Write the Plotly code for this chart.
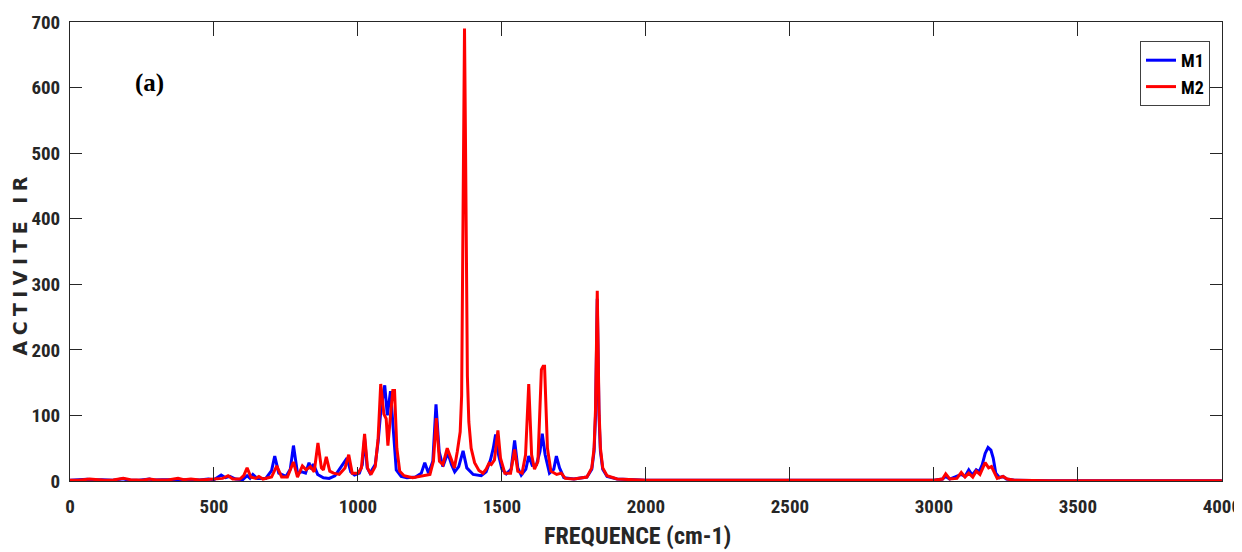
import plotly.graph_objects as go

# ---- data ----
m1_x = [0, 30, 60, 80, 110, 150, 185, 200, 240, 275, 290, 320, 370, 385, 420, 450, 480, 500,
        515, 525, 540, 555, 575, 600, 615, 625, 635, 650, 680, 700, 711, 725, 750, 765, 776,
        790, 805, 818, 830, 838, 845, 860, 880, 900, 920, 945, 962, 975, 988, 1005, 1015,
        1023, 1032, 1042, 1060, 1070, 1080, 1093, 1102, 1113, 1123, 1133, 1150, 1170, 1200,
        1220, 1232, 1245, 1260, 1271, 1282, 1295, 1312, 1325, 1336, 1350, 1365, 1378, 1400,
        1428, 1445, 1460, 1470, 1478, 1488, 1500, 1515, 1532, 1544, 1555, 1567, 1583, 1593,
        1605, 1620, 1632, 1640, 1650, 1665, 1680, 1689, 1700, 1715, 1750, 1795, 1812, 1820,
        1825, 1828, 1831, 1834, 1837, 1842, 1850, 1865, 1900, 2000, 2500, 3000, 3030, 3041,
        3055, 3085, 3095, 3108, 3121, 3133, 3147, 3157, 3168, 3178, 3188, 3198, 3206, 3215,
        3228, 3240, 3252, 3280, 3400, 4000]
m1_y = [1, 1.5, 2.5, 1.5, 2, 1, 3.5, 1.5, 1, 3, 1.5, 2, 2, 3, 2, 1.5, 3, 2,
        7, 9, 5, 7, 3, 2, 8, 4, 10, 4, 4, 16, 38, 12, 7, 18, 54,
        12, 14, 12, 28, 18, 26, 10, 5, 4, 8, 25, 35, 14, 9, 12, 25,
        65, 20, 12, 25, 60, 110, 146, 100, 137, 70, 17, 7, 5, 6,
        12, 28, 12, 30, 117, 45, 22, 43, 25, 14, 22, 46, 20, 10,
        8, 14, 32, 50, 71, 40, 18, 11, 18, 62, 20, 9, 18, 38,
        24, 25, 45, 72, 40, 12, 18, 38, 20, 5, 3, 6, 18, 45,
        100, 190, 278, 190, 100, 45, 18, 7, 3, 1, 0.5, 1, 3, 7,
        3, 8, 10, 7, 17, 9, 17, 14, 25, 42, 51, 47, 35, 12,
        5, 7, 3, 1, 0.5, 0.5]

m2_x = [0, 30, 68, 90, 120, 150, 185, 210, 250, 277, 300, 340, 375, 395, 420, 450, 490, 510,
        530, 549, 565, 590, 603, 615, 628, 645, 656, 670, 700, 718, 735, 755, 776, 790, 807,
        820, 835, 848, 861, 873, 880, 890, 902, 915, 935, 955, 968, 980, 1000, 1012, 1023,
        1033, 1045, 1060, 1070, 1079, 1090, 1098, 1104, 1115, 1121, 1127, 1135, 1145, 1160,
        1190, 1220, 1250, 1262, 1272, 1283, 1295, 1310, 1320, 1335, 1345, 1355, 1360, 1364,
        1367, 1370, 1373, 1376, 1380, 1385, 1393, 1405, 1420, 1434, 1445, 1455, 1463, 1474,
        1486, 1495, 1510, 1530, 1544, 1555, 1570, 1582, 1593, 1603, 1613, 1625, 1637, 1643,
        1648, 1658, 1670, 1690, 1706, 1720, 1750, 1795, 1812, 1820, 1825, 1828, 1831, 1834,
        1837, 1842, 1850, 1865, 1900, 2000, 2500, 3000, 3030, 3041, 3055, 3080, 3095, 3108,
        3121, 3135, 3147, 3160, 3178, 3190, 3200, 3210, 3220, 3240, 3255, 3280, 3400, 4000]
m2_y = [1, 1, 3, 2, 1, 1.5, 4, 2, 1, 3, 1.5, 1.5, 4, 2, 3, 1.5, 3, 3,
        4, 8, 3, 3, 8, 20, 6, 4, 7, 3, 6, 23, 6, 6, 29, 6, 23,
        17, 22, 14, 58, 20, 17, 37, 15, 12, 10, 20, 40, 12, 12, 20, 72,
        20, 10, 22, 65, 148, 102, 95, 54, 110, 138, 138, 50, 15, 8,
        5, 8, 10, 30, 96, 30, 25, 50, 38, 20, 45, 75, 130, 320,
        540, 690, 540, 320, 160, 90, 50, 28, 16, 12, 18, 27, 25, 32,
        77, 35, 12, 12, 48, 15, 12, 40, 148, 40, 18, 30, 170, 175,
        175, 50, 15, 10, 12, 4, 3, 6, 20, 50, 110, 200, 290, 200,
        110, 50, 20, 8, 3, 1, 0.5, 1, 3, 11, 3, 4, 13, 6,
        12, 6, 15, 10, 28, 20, 22, 12, 4, 7, 3, 1, 0.5, 0.5]

assert len(m1_x) == len(m1_y)
assert len(m2_x) == len(m2_y)

x_ticks = [0, 500, 1000, 1500, 2000, 2500, 3000, 3500, 4000]
y_ticks = [0, 100, 200, 300, 400, 500, 600, 700]

x_title = "FREQUENCE (cm-1)"
y_title = "ACTIVITE IR"
panel_label = "(a)"

NARROW = "Roboto Condensed, DejaVu Sans Condensed, Liberation Sans Narrow, Arial Narrow, sans-serif"
tick_font = dict(family=NARROW, size=19, color="#262626", weight="bold")

fig = go.Figure()
fig.add_trace(go.Scatter(x=m1_x, y=m1_y, mode="lines", name="M1",
                         line=dict(color="#0000FF", width=3)))
fig.add_trace(go.Scatter(x=m2_x, y=m2_y, mode="lines", name="M2",
                         line=dict(color="#FF0000", width=3)))

fig.add_annotation(x=277, y=607, xref="x", yref="y", text=f"<b>{panel_label}</b>", showarrow=False,
                   font=dict(family="Liberation Serif, Times New Roman, serif", size=25, color="black"))

# axis titles placed as annotations for exact positioning
fig.add_annotation(x=0.493, y=-0.119, xref="paper", yref="paper", xanchor="center", yanchor="middle",
                   text=f"<b>{x_title}</b>", showarrow=False,
                   font=dict(family=NARROW, size=24, color="#262626"))
fig.add_annotation(x=-0.0434, y=0.474, xref="paper", yref="paper", xanchor="center", yanchor="middle",
                   textangle=-90, showarrow=False,
                   text=f'<b><span style="letter-spacing:5.4px">{y_title}</span></b>',
                   font=dict(family="DejaVu Sans, sans-serif", size=19, color="#262626"))

# the page body adds an 8px offset; the figure is sized so that it fills the 1242x552 window
fig.update_layout(
    width=1234, height=544,
    margin=dict(l=62, r=20, t=14, b=71),
    paper_bgcolor="white", plot_bgcolor="white",
    showlegend=True,
    legend=dict(x=0.9896, y=0.9586, xanchor="right", yanchor="top",
                bgcolor="white", bordercolor="#404040", borderwidth=1,
                font=dict(family=NARROW, size=18, color="black", weight="bold"),
                itemwidth=30, tracegroupgap=0),
    xaxis=dict(range=[0, 4000.5], tickvals=x_ticks, ticks="inside", ticklen=14, tickcolor="#262626",
               showline=True, linecolor="#262626", linewidth=1, mirror="ticks", automargin=False,
               showgrid=False, zeroline=False, tickfont=tick_font, ticklabelstandoff=8),
    yaxis=dict(range=[0, 700], tickvals=y_ticks, ticks="inside", ticklen=12, tickcolor="#262626",
               showline=True, linecolor="#262626", linewidth=1, mirror="ticks", automargin=False,
               showgrid=False, zeroline=False, tickfont=tick_font, ticklabelstandoff=5),
)

fig.write_html("out.html")
